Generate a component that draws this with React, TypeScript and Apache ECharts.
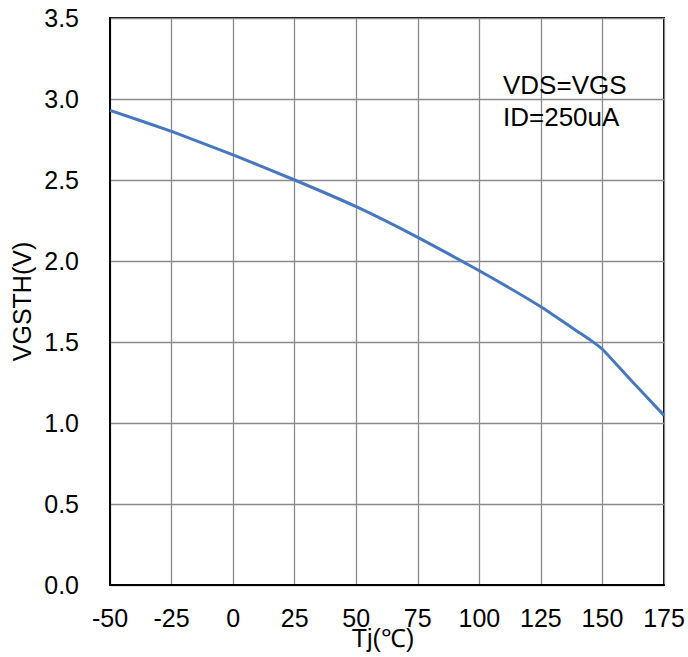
import React, { useEffect, useRef } from "react";
import * as echarts from "echarts";

const temps = [-50, -25, 0, 25, 50, 75, 100, 125, 135, 140, 145, 150, 160, 175];
const vgsth = [2.93, 2.80, 2.655, 2.50, 2.335, 2.146, 1.94, 1.718, 1.615, 1.564, 1.513, 1.455, 1.29, 1.047];
const xTicks = [-50, -25, 0, 25, 50, 75, 100, 125, 150, 175];
const yTicks = [0, 0.5, 1.0, 1.5, 2.0, 2.5, 3.0, 3.5];
const noteLines = ["VDS=VGS", "ID=250uA"];

const FONT = "'Liberation Sans', Arial, sans-serif";

export default function App() {
  const ref = useRef<HTMLDivElement>(null);
  useEffect(() => {
    document.body.style.margin = "0";
    const chart = echarts.init(ref.current!, null, { renderer: "svg" });
    chart.setOption({
      animation: false,
      backgroundColor: "#ffffff",
      textStyle: { fontFamily: FONT },
      grid: {
        left: 110, right: 24, top: 18, bottom: 72,
        containLabel: false, outerBoundsMode: "none",
        show: true, borderColor: "#000", borderWidth: 2, backgroundColor: "transparent",
      },
      xAxis: {
        type: "value",
        min: xTicks[0],
        max: xTicks[xTicks.length - 1],
        interval: 25,
        name: "Tj(℃)",
        nameLocation: "middle",
        nameGap: 43,
        nameMoveOverlap: false,
        nameTextStyle: { color: "#000", fontSize: 25, fontFamily: FONT, lineHeight: 20, padding: [0, 8, 0, 0] },
        axisLine: { show: true, onZero: false, lineStyle: { color: "#000", width: 2 } },
        axisTick: { show: false },
        axisLabel: { color: "#000", fontSize: 25, margin: 23, lineHeight: 20, fontFamily: FONT },
        splitLine: { show: true, lineStyle: { color: "#8a8a8a", width: 1.3 } },
      },
      yAxis: {
        type: "value",
        min: yTicks[0],
        max: yTicks[yTicks.length - 1],
        interval: 0.5,
        name: "VGSTH(V)",
        nameLocation: "middle",
        nameGap: 75,
        nameMoveOverlap: false,
        nameRotate: 90,
        nameTextStyle: { color: "#000", fontSize: 25, fontFamily: FONT, lineHeight: 26 },
        axisLine: { show: true, onZero: false, lineStyle: { color: "#000", width: 2 } },
        axisTick: { show: false },
        axisLabel: { color: "#000", fontSize: 25, margin: 31, fontFamily: FONT, formatter: (v: number) => v.toFixed(1) },
        splitLine: { show: true, lineStyle: { color: "#8a8a8a", width: 1.3 } },
      },
      graphic: noteLines.map((t, i) => ({
        type: "text",
        left: 503,
        top: 72 + i * 31.5,
        style: { text: t, fill: "#000", fontSize: 26, fontFamily: FONT },
        z: 100,
      })),
      series: [
        {
          type: "line",
          data: temps.map((t, i) => [t, vgsth[i]]),
          showSymbol: false,
          smooth: 0.15,
          lineStyle: { color: "#4677BF", width: 3 },
          z: 5,
        },
      ],
    });
    return () => chart.dispose();
  }, []);
  return <div ref={ref} style={{ width: 688, height: 657 }} />;
}
